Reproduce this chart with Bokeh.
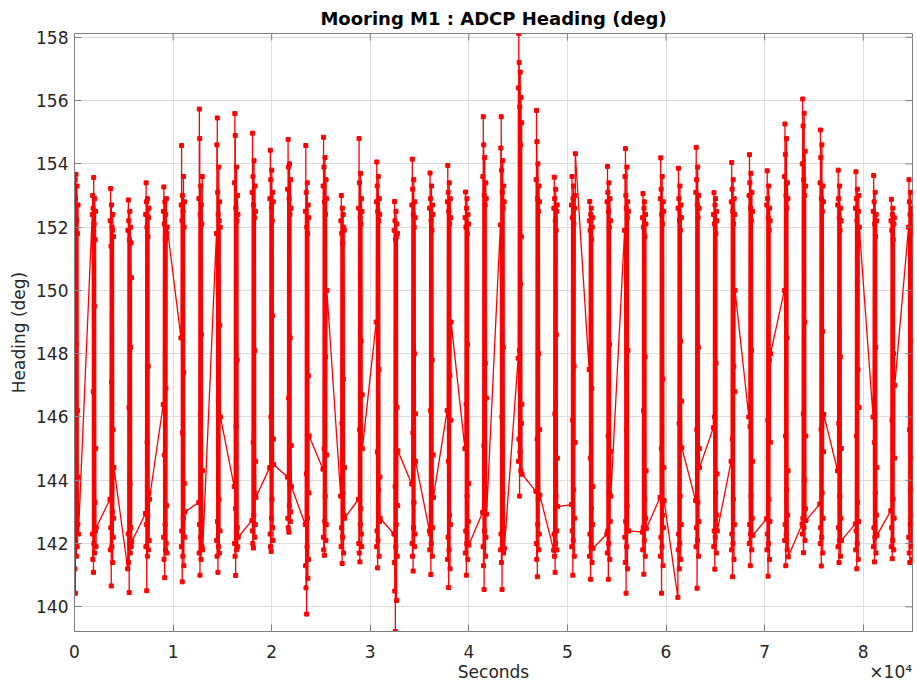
import math
from bokeh.plotting import figure
from bokeh.models import ColumnDataSource, FixedTicker, LinearAxis, Range1d
from bokeh.embed import file_html
from bokeh.resources import INLINE

# ---- data ----
burst_starts = [0, 1800, 3600, 5400, 7200, 9000, 10800, 12600, 14400, 16200, 18000, 19800,
                21600, 23400, 25200, 27000, 28800, 30600, 32400, 34200, 36000, 37800, 39600, 41400,
                43200, 45000, 46800, 48600, 50400, 52200, 54000, 55800, 57600, 59400, 61200, 63000,
                64800, 66600, 68400, 70200, 72000, 73800, 75600, 77400, 79200, 81000, 82800, 84600]
ping_offsets = [0, 21, 42, 63, 84, 105, 126, 147, 168, 189, 210, 231, 252, 273, 294, 315, 336, 357, 378, 400]

heading_b01 = [145.4, 152.6, 141.2, 153.5, 140.43, 152.9, 142.1, 153.67, 148.3, 141.6, 152.2, 143.5, 153.3, 141.9, 151.8, 146.2, 142.6, 152.7, 144.1, 142.3]
heading_b02 = [152.4, 142.3, 153.0, 141.5, 152.6, 146.8, 141.09, 153.57, 142.0, 152.1, 149.5, 141.7, 152.9, 143.3, 151.6, 142.4, 152.5, 145.0, 141.9, 142.5]
heading_b03 = [143.4, 152.2, 141.8, 153.22, 142.5, 151.4, 140.66, 152.7, 147.1, 141.9, 152.0, 143.0, 151.9, 141.4, 152.4, 145.6, 142.2, 151.7, 142.8, 144.4]
heading_b04 = [141.2, 151.9, 142.3, 152.86, 141.4, 152.2, 146.3, 140.45, 151.6, 142.0, 152.5, 143.9, 141.7, 152.0, 148.2, 142.5, 151.5, 141.9, 150.4, 142.05]
heading_b05 = [142.95, 152.4, 141.9, 153.4, 142.6, 152.8, 140.51, 152.0, 145.2, 141.6, 152.9, 142.9, 151.7, 147.6, 141.8, 152.3, 143.6, 152.6, 142.1, 143.4]
heading_b06 = [146.4, 152.5, 142.2, 153.27, 141.5, 152.1, 144.8, 140.92, 152.8, 142.6, 151.6, 141.8, 152.4, 146.9, 142.0, 152.9, 143.2, 151.8, 141.7, 152.0]
heading_b07 = [148.5, 152.7, 141.9, 154.58, 142.4, 152.2, 140.79, 153.0, 145.5, 141.6, 152.5, 142.8, 153.6, 147.4, 141.3, 152.0, 143.9, 152.8, 142.2, 143.0]
heading_b08 = [143.3, 152.9, 141.7, 155.73, 142.6, 154.8, 141.0, 152.4, 146.1, 142.2, 153.3, 141.5, 152.7, 148.6, 142.8, 152.1, 141.9, 153.6, 144.3, 141.8]
heading_b09 = [151.8, 142.1, 154.6, 141.6, 155.45, 142.7, 153.1, 141.09, 152.4, 146.5, 141.9, 153.9, 143.4, 152.2, 141.7, 152.8, 148.9, 142.4, 152.0, 146.0]
heading_b10 = [143.8, 153.4, 142.0, 155.59, 141.6, 154.9, 143.1, 140.99, 152.6, 145.7, 142.3, 153.9, 141.8, 152.2, 147.8, 142.5, 153.0, 141.9, 152.4, 142.2]
heading_b11 = [142.73, 153.1, 142.4, 154.97, 142.0, 153.6, 145.2, 141.86, 152.7, 142.9, 154.1, 143.6, 152.3, 148.1, 142.2, 153.3, 142.6, 152.5, 144.6, 143.46]
heading_b12 = [144.4, 152.9, 142.3, 154.43, 141.9, 153.5, 146.0, 141.75, 152.6, 142.8, 153.8, 143.4, 152.2, 149.2, 142.5, 153.1, 142.1, 152.8, 145.3, 144.5]
heading_b13 = [144.1, 153.2, 142.8, 154.77, 142.5, 153.9, 146.6, 142.36, 152.9, 143.2, 154.0, 143.9, 152.4, 148.5, 142.7, 153.5, 143.0, 152.6, 145.1, 143.8]
heading_b14 = [142.6, 152.5, 141.3, 154.58, 140.6, 153.1, 144.2, 139.77, 152.0, 141.9, 153.4, 142.8, 151.8, 140.9, 152.7, 147.3, 141.5, 152.3, 143.6, 145.4]
heading_b15 = [144.35, 153.3, 142.2, 154.84, 141.8, 153.9, 145.0, 141.63, 152.8, 142.7, 154.2, 143.5, 152.4, 147.9, 142.1, 153.5, 142.6, 152.9, 144.8, 150.0]
heading_b16 = [143.5, 152.2, 141.9, 153.0, 142.5, 151.8, 145.8, 141.37, 152.6, 142.2, 151.5, 143.6, 152.4, 147.2, 141.7, 152.0, 142.9, 151.9, 144.4, 142.8]
heading_b17 = [143.4, 152.6, 142.0, 154.8, 141.7, 153.4, 145.6, 141.42, 152.3, 142.6, 153.7, 143.1, 152.1, 148.4, 142.3, 152.9, 141.9, 152.5, 146.7, 145.0]
heading_b18 = [149.0, 152.8, 141.9, 154.06, 142.4, 153.3, 144.9, 141.23, 152.5, 142.1, 153.6, 143.7, 152.2, 147.5, 141.6, 152.9, 142.7, 152.4, 144.1, 142.8]
heading_b19 = [142.3, 151.9, 141.4, 152.81, 140.5, 152.2, 143.8, 139.22, 151.6, 141.9, 152.5, 142.6, 151.7, 140.2, 152.1, 146.3, 141.6, 151.8, 143.2, 144.93]
heading_b20 = [143.88, 152.7, 142.0, 154.15, 141.6, 153.2, 145.5, 141.13, 152.4, 142.5, 153.5, 143.3, 152.0, 148.0, 141.9, 152.8, 142.3, 152.3, 146.1, 144.6]
heading_b21 = [142.4, 152.6, 141.8, 153.71, 142.3, 152.9, 146.2, 141.02, 152.2, 142.0, 153.3, 143.6, 151.9, 147.8, 141.6, 152.7, 142.5, 152.4, 144.8, 143.46]
heading_b22 = [146.2, 152.8, 141.5, 153.95, 142.2, 153.1, 144.6, 140.61, 152.5, 141.8, 153.4, 142.9, 152.1, 147.3, 141.2, 152.9, 142.6, 152.3, 145.9, 149.0]
heading_b23 = [145.0, 152.3, 141.7, 153.11, 142.4, 152.0, 146.4, 141.0, 152.6, 142.0, 152.9, 143.5, 151.8, 148.3, 141.5, 152.4, 142.7, 152.1, 143.9, 141.95]
heading_b24 = [142.99, 153.6, 141.9, 155.49, 141.3, 154.6, 145.1, 140.55, 153.0, 142.4, 154.2, 143.2, 152.7, 147.7, 141.6, 153.4, 142.2, 152.9, 146.6, 142.93]
heading_b25 = [152.07, 141.8, 154.5, 142.3, 155.49, 141.4, 153.8, 146.0, 140.55, 153.1, 142.0, 154.1, 143.6, 152.6, 148.2, 141.7, 153.3, 142.5, 152.8, 141.85]
heading_b26 = [147.86, 156.4, 144.6, 158.12, 145.3, 157.2, 148.1, 143.5, 155.8, 144.9, 156.9, 150.2, 154.6, 144.3, 156.1, 151.7, 145.8, 155.3, 146.4, 144.19]
heading_b27 = [143.65, 153.5, 142.0, 155.69, 141.5, 154.7, 145.3, 140.95, 152.9, 142.6, 154.0, 143.4, 152.5, 148.0, 141.8, 153.3, 142.3, 152.8, 145.6, 143.53]
heading_b28 = [141.79, 152.6, 142.3, 153.58, 141.6, 152.9, 146.1, 141.09, 152.2, 142.0, 153.2, 143.5, 151.9, 148.6, 142.4, 152.5, 141.8, 152.7, 144.7, 143.17]
heading_b29 = [143.23, 152.7, 141.9, 153.6, 142.4, 152.3, 145.9, 141.0, 152.9, 142.1, 153.3, 143.7, 152.1, 147.6, 141.6, 152.6, 142.8, 153.0, 145.2, 154.32]
heading_b30 = [147.5, 152.2, 141.6, 152.81, 142.3, 151.9, 144.7, 140.87, 152.4, 141.9, 152.6, 143.1, 151.6, 146.9, 141.4, 152.0, 142.6, 152.3, 143.8, 141.85]
heading_b31 = [142.3, 152.8, 141.7, 153.92, 142.4, 153.1, 145.4, 140.87, 152.5, 142.0, 153.4, 143.6, 152.0, 148.3, 141.5, 152.9, 142.7, 152.2, 144.9, 143.5]
heading_b32 = [151.9, 142.2, 153.6, 141.4, 154.48, 142.7, 153.0, 140.43, 152.6, 145.6, 141.9, 153.9, 143.2, 152.3, 141.2, 152.8, 148.1, 142.4, 152.5, 142.4]
heading_b33 = [142.36, 152.3, 141.8, 153.06, 142.5, 152.0, 146.2, 141.03, 152.6, 142.1, 152.8, 143.4, 151.7, 147.9, 141.6, 152.4, 142.8, 152.1, 144.3, 142.47]
heading_b34 = [143.46, 152.9, 141.6, 154.19, 142.2, 153.2, 145.0, 140.43, 152.4, 141.9, 153.6, 142.9, 152.1, 147.2, 141.3, 152.8, 142.5, 152.5, 144.4, 143.36]
heading_b35 = [140.3, 152.6, 141.8, 153.86, 142.3, 152.9, 145.8, 141.2, 152.2, 142.0, 153.3, 143.5, 151.9, 148.4, 141.5, 152.7, 142.6, 152.3, 146.5, 145.03]
heading_b36 = [143.36, 153.1, 141.9, 154.52, 142.5, 153.5, 145.6, 140.59, 152.7, 142.1, 153.9, 143.3, 152.3, 148.2, 141.6, 153.0, 142.7, 152.6, 145.0, 144.4]
heading_b37 = [145.66, 152.4, 141.9, 153.09, 142.4, 152.1, 146.0, 141.19, 152.7, 142.2, 152.9, 143.6, 151.8, 147.7, 141.7, 152.5, 142.9, 152.2, 144.2, 142.4]
heading_b38 = [144.6, 152.8, 141.8, 154.04, 142.3, 153.2, 145.3, 140.95, 152.5, 142.0, 153.5, 143.4, 152.1, 147.6, 141.5, 152.9, 142.6, 152.4, 146.8, 150.0]
heading_b39 = [146.0, 153.0, 142.0, 154.29, 142.6, 153.4, 145.7, 141.3, 152.6, 142.3, 153.7, 143.5, 152.2, 148.1, 141.8, 153.1, 142.8, 152.5, 144.6, 142.26]
heading_b40 = [142.78, 152.7, 141.8, 153.78, 142.3, 152.9, 145.9, 140.97, 152.3, 142.0, 153.3, 143.4, 151.9, 147.8, 141.5, 152.6, 142.7, 152.2, 145.2, 148.0]
heading_b41 = [150.0, 153.6, 142.1, 155.26, 142.6, 154.3, 145.4, 141.3, 153.0, 142.3, 154.8, 143.7, 152.6, 148.5, 141.8, 153.4, 142.9, 152.9, 144.3, 141.58]
heading_b42 = [142.62, 154.0, 142.3, 156.05, 142.8, 155.2, 146.1, 141.71, 153.5, 142.5, 155.6, 144.0, 153.0, 149.0, 142.1, 154.4, 143.1, 153.3, 145.4, 142.73]
heading_b43 = [143.25, 153.4, 142.0, 155.07, 142.5, 154.2, 145.6, 141.29, 152.9, 142.2, 154.6, 143.6, 152.5, 148.7, 141.7, 153.3, 142.8, 152.8, 144.9, 146.08]
heading_b44 = [144.3, 152.7, 141.9, 153.8, 142.5, 152.9, 145.8, 141.4, 152.3, 142.1, 153.3, 143.5, 151.9, 147.9, 141.6, 152.6, 142.8, 152.2, 145.0, 142.1]
heading_b45 = [142.62, 152.6, 141.8, 153.75, 142.4, 152.9, 145.4, 141.2, 152.2, 142.0, 153.2, 143.3, 151.8, 147.5, 141.5, 152.5, 142.7, 153.0, 146.3, 152.0]
heading_b46 = [146.0, 152.5, 141.9, 153.63, 142.5, 152.8, 145.2, 141.42, 152.1, 142.2, 153.1, 143.6, 151.7, 148.2, 141.7, 152.4, 142.9, 152.2, 144.4, 142.26]
heading_b47 = [143.04, 152.2, 141.9, 152.88, 142.5, 151.9, 145.9, 141.52, 152.4, 142.1, 152.6, 143.4, 151.6, 148.0, 141.8, 152.1, 142.8, 152.3, 144.7, 147.0]
heading_b48 = [152.0, 142.2, 153.5, 141.7, 152.8, 145.6, 141.4, 152.4, 142.6, 153.1, 143.7, 152.0, 148.4, 141.9, 152.6, 142.9, 151.8, 144.7, 152.4, 141.5]

x_start, x_end = 0, 85000
y_start, y_end = 139.22, 158.12
x_ticks = [0, 10000, 20000, 30000, 40000, 50000, 60000, 70000, 80000]
x_tick_labels = ["0", "1", "2", "3", "4", "5", "6", "7", "8"]
y_ticks = [140, 142, 144, 146, 148, 150, 152, 154, 156, 158]
x_label = "Seconds"
x_exponent = "×10⁴"
title_text = "Mooring M1 : ADCP Heading (deg)"
y_label = "Heading (deg)"

bursts = [heading_b01, heading_b02, heading_b03, heading_b04, heading_b05, heading_b06, heading_b07, heading_b08,
          heading_b09, heading_b10, heading_b11, heading_b12, heading_b13, heading_b14, heading_b15, heading_b16,
          heading_b17, heading_b18, heading_b19, heading_b20, heading_b21, heading_b22, heading_b23, heading_b24,
          heading_b25, heading_b26, heading_b27, heading_b28, heading_b29, heading_b30, heading_b31, heading_b32,
          heading_b33, heading_b34, heading_b35, heading_b36, heading_b37, heading_b38, heading_b39, heading_b40,
          heading_b41, heading_b42, heading_b43, heading_b44, heading_b45, heading_b46, heading_b47, heading_b48]

xs, ys = [], []
for t0, vals in zip(burst_starts, bursts):
    for off, v in zip(ping_offsets, vals):
        xs.append(t0 + off)
        ys.append(v)
src = ColumnDataSource(dict(x=xs, y=ys))

FONT = "DejaVu Sans"
AX = "#7f7f7f"
TXT = "#262626"

p = figure(width=917, height=687, output_backend="svg", toolbar_location=None,
           x_range=Range1d(x_start, x_end), y_range=Range1d(y_start, y_end),
           min_border_left=74, min_border_right=5, min_border_top=31, min_border_bottom=56)
p.background_fill_color = "white"
p.border_fill_color = "white"
p.outline_line_color = AX

p.title.text = title_text
p.title.align = "center"
p.title.text_font = FONT
p.title.text_font_size = "18px"
p.title.text_font_style = "bold"
p.title.text_color = "black"

p.xgrid.ticker = FixedTicker(ticks=x_ticks)
p.ygrid.ticker = FixedTicker(ticks=y_ticks)
p.grid.grid_line_color = "#dedede"
p.grid.grid_line_width = 1

p.line("x", "y", source=src, line_color="#ff0000", line_width=1.3)
p.scatter("x", "y", source=src, marker="square", size=4, fill_color="#ff0000", line_color="#ff0000")

# inward ticks on the top and right edges of the box
p.ray(x=x_ticks, y=[y_end] * len(x_ticks), length=7, length_units="screen", angle=-math.pi / 2,
      line_color=AX, line_width=1)
p.ray(x=[x_end] * len(y_ticks), y=y_ticks, length=7, length_units="screen", angle=math.pi,
      line_color=AX, line_width=1)

xa = p.xaxis[0]
xa.ticker = FixedTicker(ticks=x_ticks)
xa.major_label_overrides = {t: l for t, l in zip(x_ticks, x_tick_labels)}
ya = p.yaxis[0]
ya.ticker = FixedTicker(ticks=y_ticks)
ya.axis_label = y_label
for ax in (xa, ya):
    ax.axis_line_color = AX
    ax.major_tick_line_color = AX
    ax.major_tick_in = 7
    ax.major_tick_out = 0
    ax.minor_tick_line_color = None
    ax.major_label_text_font = FONT
    ax.major_label_text_font_size = "17px"
    ax.major_label_text_color = TXT
    ax.axis_label_text_font = FONT
    ax.axis_label_text_font_size = "17px"
    ax.axis_label_text_font_style = "normal"
    ax.axis_label_text_color = TXT
xa.major_label_standoff = 13
ya.major_label_standoff = 6
ya.axis_label_standoff = 4

# second row under the x axis: "Seconds" centred, the ×10^4 multiplier at the right end
label_pos = [(x_start + x_end) / 2, x_end * 0.974]
row2 = LinearAxis(ticker=FixedTicker(ticks=label_pos),
                  major_label_overrides={label_pos[0]: x_label, label_pos[1]: x_exponent},
                  axis_line_color=None, major_tick_line_color=None, minor_tick_line_color=None,
                  major_tick_in=0, major_tick_out=0, major_label_standoff=1,
                  major_label_text_font=FONT, major_label_text_font_size="17px",
                  major_label_text_color=TXT)
p.add_layout(row2, "below")

open("out.html", "w").write(file_html(p, INLINE))
